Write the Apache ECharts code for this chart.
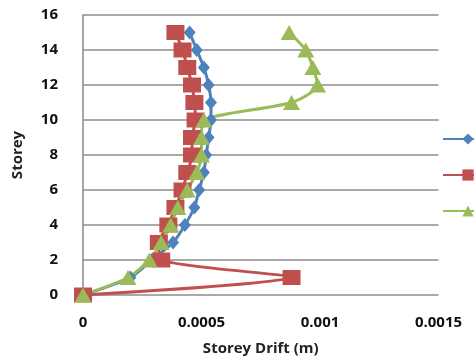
<!DOCTYPE html>
<html>
<head>
<meta charset="utf-8">
<style>
  html, body { margin: 0; padding: 0; background: #fff; }
  #chart { width: 474px; height: 364px; }
</style>
<script src="https://cdn.jsdelivr.net/npm/echarts@6/dist/echarts.min.js"></script>
</head>
<body>
<div id="chart"></div>
<script>
// Storey levels (y) and drift per storey (x, metres) for three cases
const storeys = [0, 1, 2, 3, 4, 5, 6, 7, 8, 9, 10, 11, 12, 13, 14, 15];
const seriesNames = ['Series1', 'Series2', 'Series3'];
const driftBlue  = [0, 0.00020, 0.00029, 0.00038, 0.00043, 0.00047, 0.00049, 0.00051, 0.00052, 0.00053, 0.00054, 0.00054, 0.00053, 0.00051, 0.00048, 0.00045];
const driftRed   = [0, 0.00088, 0.00033, 0.00032, 0.00036, 0.00039, 0.00042, 0.00044, 0.00046, 0.00046, 0.000475, 0.00047, 0.00046, 0.00044, 0.00042, 0.00039];
const driftGreen = [0, 0.00019, 0.00028, 0.00033, 0.00037, 0.00040, 0.00044, 0.00048, 0.00050, 0.00050, 0.00051, 0.00088, 0.00099, 0.00097, 0.00094, 0.00087];
const xTicks = [0, 0.0005, 0.001, 0.0015];

const colors = ['#4F81BD', '#C0504D', '#9BBB59'];
const symbols = ['diamond', 'rect', 'triangle'];
const symbolSizes = [[12, 14], [18, 15], [17, 15]];

function pairs(xs) { return xs.map((x, i) => [x, storeys[i]]); }

const chart = echarts.init(document.getElementById('chart'), null, { renderer: 'canvas' });
const font = '"Open Sans", "Liberation Sans", sans-serif';

chart.setOption({
  animation: false,
  backgroundColor: '#ffffff',
  grid: { left: 83, right: 35.5, top: 15, bottom: 69, containLabel: false },
  legend: {
    orient: 'vertical',
    left: 437, top: 127,
    itemWidth: 50, itemHeight: 14, itemGap: 22,
    textStyle: { fontFamily: font, fontSize: 14, color: '#222' },
    data: seriesNames
  },
  xAxis: {
    type: 'value', min: xTicks[0], max: xTicks[xTicks.length - 1], interval: 0.0005,
    name: 'Storey Drift (m)', nameLocation: 'middle', nameGap: 46,
    nameTextStyle: { fontFamily: font, fontSize: 15, fontWeight: 'bold', color: '#222' },
    axisLine: { show: false }, axisTick: { show: false },
    splitLine: { show: false },
    axisLabel: { fontFamily: font, fontSize: 15, fontWeight: 'bold', color: '#111', margin: 20,
      formatter: v => String(+v.toFixed(4)) }
  },
  yAxis: {
    type: 'value', min: 0, max: 16, interval: 2,
    name: 'Storey', nameLocation: 'middle', nameGap: 58, nameRotate: 90,
    nameTextStyle: { fontFamily: font, fontSize: 15, fontWeight: 'bold', color: '#222' },
    axisLine: { show: true, onZero: false, lineStyle: { color: '#888', width: 1.5 } },
    axisTick: { show: false },
    splitLine: { show: true, lineStyle: { color: '#8c8c8c', width: 1.5 } },
    axisLabel: { fontFamily: font, fontSize: 15, fontWeight: 'bold', color: '#111', margin: 25 }
  },
  series: [driftBlue, driftRed, driftGreen].map((d, i) => ({
    name: seriesNames[i],
    type: 'line',
    data: pairs(d),
    smooth: 0.25,
    color: colors[i],
    symbol: symbols[i],
    symbolSize: symbolSizes[i],
    lineStyle: { width: 3, color: colors[i] },
    itemStyle: { color: colors[i] }
  }))
});
</script>
</body>
</html>
